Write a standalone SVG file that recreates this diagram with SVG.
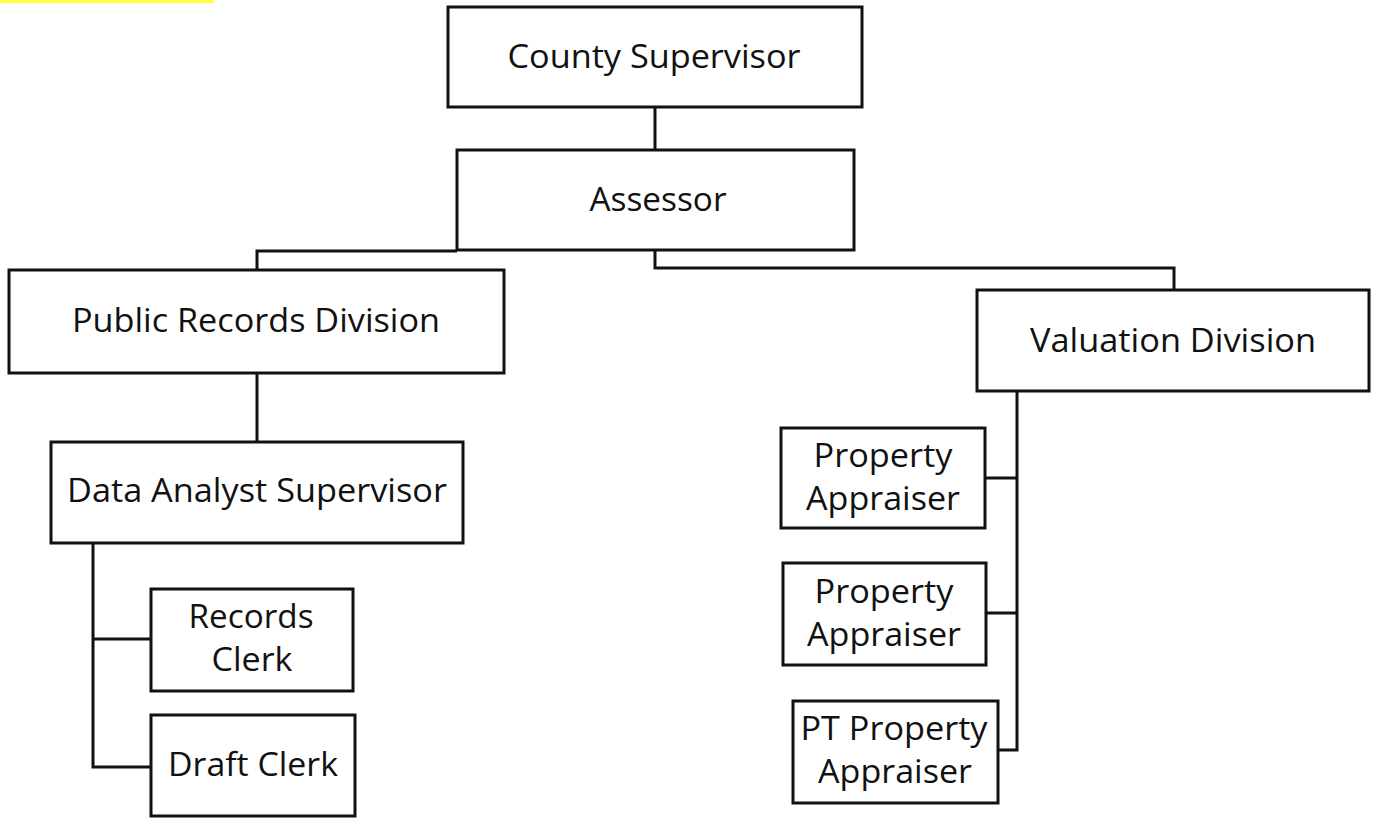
<svg xmlns="http://www.w3.org/2000/svg" width="1377" height="818" viewBox="0 0 1377 818">
<style>
.box{fill:#fff;stroke:#111;stroke-width:3}
.ln{fill:none;stroke:#111;stroke-width:3}
text{font-family:"Open Sans","Liberation Sans",sans-serif;font-size:32px;fill:#111;text-anchor:middle}
</style>
<rect width="1377" height="818" fill="#fff"/>
<rect x="0" y="0" width="214" height="3" fill="#ffff40"/>
<g id="connectors">
<path class="ln" d="M655 107V150"/>
<path class="ln" d="M457 251H257V270"/>
<path class="ln" d="M655 250V268H1174V290"/>
<path class="ln" d="M257 373V442"/>
<path class="ln" d="M93 543V767H151M93 639H151"/>
<path class="ln" d="M1017 391V750H998M1017 478H985M1017 613H986"/>
</g>
<g id="county-supervisor"><rect class="box" x="448" y="7" width="414" height="100"/><text x="654" y="68" textLength="293" lengthAdjust="spacingAndGlyphs">County Supervisor</text></g>
<g id="assessor"><rect class="box" x="457" y="150" width="397" height="100"/><text x="658" y="211" textLength="137" lengthAdjust="spacingAndGlyphs">Assessor</text></g>
<g id="public-records"><rect class="box" x="9" y="270" width="495" height="103"/><text x="256" y="332" textLength="368" lengthAdjust="spacingAndGlyphs">Public Records Division</text></g>
<g id="data-analyst"><rect class="box" x="51" y="442" width="412" height="101"/><text x="257" y="502" textLength="380" lengthAdjust="spacingAndGlyphs">Data Analyst Supervisor</text></g>
<g id="records-clerk"><rect class="box" x="151" y="589" width="202" height="102"/><text x="251" y="628" textLength="125" lengthAdjust="spacingAndGlyphs">Records</text><text x="252" y="671" textLength="81" lengthAdjust="spacingAndGlyphs">Clerk</text></g>
<g id="draft-clerk"><rect class="box" x="151" y="715" width="204" height="101"/><text x="253" y="776" textLength="170" lengthAdjust="spacingAndGlyphs">Draft Clerk</text></g>
<g id="valuation"><rect class="box" x="977" y="290" width="392" height="101"/><text x="1173" y="352" textLength="286" lengthAdjust="spacingAndGlyphs">Valuation Division</text></g>
<g id="property-appraiser-1"><rect class="box" x="781" y="428" width="204" height="100"/><text x="883" y="467" textLength="139" lengthAdjust="spacingAndGlyphs">Property</text><text x="883" y="510" textLength="154" lengthAdjust="spacingAndGlyphs">Appraiser</text></g>
<g id="property-appraiser-2"><rect class="box" x="783" y="563" width="203" height="102"/><text x="884" y="603" textLength="139" lengthAdjust="spacingAndGlyphs">Property</text><text x="884" y="646" textLength="154" lengthAdjust="spacingAndGlyphs">Appraiser</text></g>
<g id="pt-property-appraiser"><rect class="box" x="793" y="701" width="205" height="102"/><text x="894" y="740" textLength="187" lengthAdjust="spacingAndGlyphs">PT Property</text><text x="895" y="783" textLength="154" lengthAdjust="spacingAndGlyphs">Appraiser</text></g>
</svg>
